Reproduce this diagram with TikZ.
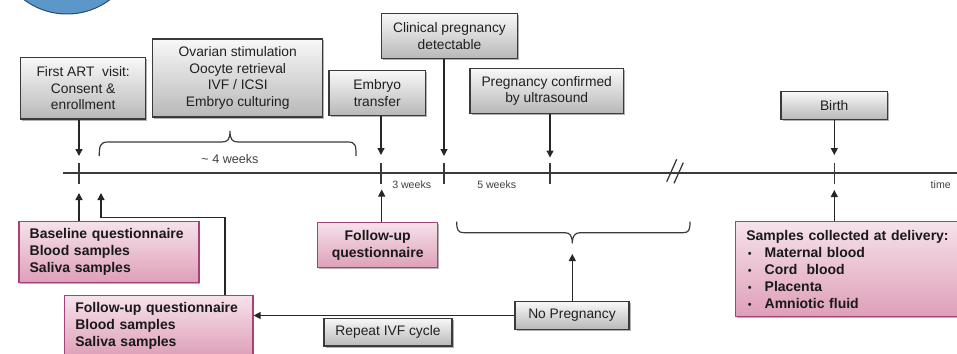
\documentclass[tikz,border=0pt]{standalone}
\usepackage{fontspec}
\setmainfont{Liberation Sans}
\usetikzlibrary{arrows.meta,shadows,calc}
\definecolor{boxline}{HTML}{3A3A3A}
\definecolor{graytop}{HTML}{F8F8F8}
\definecolor{graybot}{HTML}{B8B8B8}
\definecolor{pinktop}{HTML}{F6E2EA}
\definecolor{pinkbot}{HTML}{DE9FB8}
\definecolor{pinkline}{HTML}{A6417A}
\definecolor{circfill}{HTML}{5B97C8}
\definecolor{circline}{HTML}{2E4A66}
\definecolor{txt}{HTML}{202020}
\newcommand{\blt}{\makebox[18.3pt][l]{\hspace{1.5pt}\mdseries\fontsize{11}{17}\selectfont\textbullet}}
\begin{document}
\begin{tikzpicture}[x=1pt,y=-1pt,
  graybox/.style={draw=boxline, line width=1.2pt, top color=graytop, bottom color=graybot,
    align=center, text=txt, font=\fontsize{13.8}{16.7}\selectfont, inner sep=0pt,
    drop shadow={shadow xshift=1.5pt,shadow yshift=-1.5pt,opacity=0.3,fill=black}},
  pinkbox/.style={draw=pinkline, line width=1.3pt, top color=pinktop, bottom color=pinkbot,
    text=black!90, font=\fontsize{14}{17}\selectfont\bfseries, inner ysep=0pt,
    drop shadow={shadow xshift=1.5pt,shadow yshift=-1.5pt,opacity=0.3,fill=black}},
  arr/.style={draw=black!85, line width=1.3pt, -{Triangle[length=7pt,width=7pt]}},
  tl/.style={draw=boxline, line width=1.3pt},
  small/.style={text=black!75, font=\fontsize{10.6}{12}\selectfont, inner sep=0pt}
]
\useasboundingbox (0,0) rectangle (957,353);
\clip (0,0) rectangle (957,353);

% decorative circle (top left, cut off)
\draw[fill=circfill, draw=circline, line width=1pt] (67,-57.5) circle[radius=71.5pt];

% timeline
\draw[tl] (63,173) -- (957,173);
\coordinate (t1) at (79,173);
\coordinate (t2) at (381,173);
\coordinate (t3) at (444,173);
\coordinate (t4) at (550,173);
\coordinate (t5) at (834.3,173);
\foreach \t in {t1,t2,t3,t4,t5}{
  \draw[tl] ([yshift=10pt]\t) -- ([yshift=-11pt]\t);
}
% break marks
\draw[tl] (666.7,181.7) -- (676.7,159.3);
\draw[tl] (674,183.3) -- (683.3,162.7);

% gray boxes
\node[graybox, minimum width=125pt, minimum height=61.3pt] (art) at (83.2,88.35)
  {First ART\ \ visit:\\Consent \&\\enrollment};
\node[graybox, minimum width=170pt, minimum height=78pt] (ovar) at (237.7,78)
  {Ovarian stimulation\\Oocyte retrieval\\IVF / ICSI\\Embryo culturing};
\node[graybox, minimum width=96.3pt, minimum height=44.6pt] (embryo) at (377.2,93)
  {Embryo\\transfer};
\node[graybox, minimum width=135.6pt, minimum height=45pt] (clin) at (449.5,35.8)
  {Clinical pregnancy\\detectable};
\node[graybox, minimum width=153.3pt, minimum height=44.6pt] (conf) at (546.7,91)
  {Pregnancy confirmed\\by ultrasound};
\node[graybox, minimum width=106.3pt, minimum height=27.6pt] (birth) at (834.2,105.5)
  {Birth};
\node[graybox, minimum width=114pt, minimum height=27.6pt] (nopreg) at (572,315.5)
  {No Pregnancy};
\node[graybox, minimum width=128pt, minimum height=27.7pt] (repeat) at (388,332.2)
  {Repeat IVF cycle};

% pink boxes
\node[pinkbox, anchor=north west, text width=158.6pt, inner xsep=10.7pt,
  minimum height=61pt, align=left] (base) at (18.3,220.7)
  {Baseline questionnaire\\Blood samples\\Saliva samples};
\node[pinkbox, align=center, inner xsep=0pt, minimum width=120pt, minimum height=45pt]
  (fu1) at (377.7,245.2) {Follow-up\\questionnaire};
\node[pinkbox, anchor=north west, text width=166.9pt, inner xsep=10.7pt,
  minimum height=61pt, align=left] (fu2) at (64,295)
  {Follow-up questionnaire\\Blood samples\\Saliva samples};
\node[pinkbox, anchor=north west, text width=205.6pt, inner xsep=10.7pt,
  minimum height=95pt, align=left] (samples) at (735,221)
  {Samples collected at delivery:\\
   \blt Maternal blood\\
   \blt Cord\ \ blood\\
   \blt Placenta\\
   \blt Amniotic fluid};

% braces
\draw[tl, line width=1.2pt] (99.3,156) .. controls (99.3,146) and (100,142) .. (108,142)
  -- (222,142) .. controls (228,142) and (230,139) .. (230,131)
  .. controls (230,139) and (232,142) .. (238,142)
  -- (348,142) .. controls (356,142) and (356,146) .. (356,156);
\draw[tl, line width=1.2pt] (456.7,221.7) .. controls (456.7,230) and (458,232.7) .. (464,232.7)
  -- (565,232.7) .. controls (570,232.7) and (572.3,236) .. (572.3,243.3)
  .. controls (572.3,236) and (575,232.7) .. (580,232.7)
  -- (683,232.7) .. controls (689,232.7) and (690,230) .. (690,221.7);

% arrow end points
\coordinate (a1) at (79,156);
\coordinate (a2) at (381,155);
\coordinate (a3) at (444,156);
\coordinate (a4) at (550,157.5);
\coordinate (a5) at (834.3,155);
\coordinate (b1) at (79,193);
\coordinate (b2) at (101,193);
\coordinate (b3) at (381.7,189.5);
\coordinate (b5) at (834.3,190);
\coordinate (k1) at (225,217.7);
\coordinate (c2) at (572.3,254);

% arrows from top boxes to timeline
\draw[arr] (art.south -| a1) -- (a1);
\draw[arr] (embryo.south -| a2) -- (a2);
\draw[arr] (clin.south -| a3) -- (a3);
\draw[arr] (conf.south -| a4) -- (a4);
\draw[arr] (birth.south -| a5) -- (a5);

% arrows from bottom boxes to timeline
\draw[arr] (base.north -| b1) -- (b1);
\draw[arr] (fu2.north -| k1) -- (k1) -| (b2);
\draw[arr] (fu1.north -| b3) -- (b3);
\draw[arr] (samples.north -| b5) -- (b5);
\draw[arr] (nopreg.north -| c2) -- (c2);
\draw[arr] (nopreg.west) -- (fu2.east |- nopreg.west);

% labels
\node[small, font=\fontsize{12.6}{14}\selectfont] (w4) at (230,159) {\textasciitilde\ 4 weeks};
\node[small] (w3) at (411.7,184.3) {3 weeks};
\node[small] (w5) at (496.7,184.3) {5 weeks};
\node[small] (time) at (940.7,185) {time};
\end{tikzpicture}
\end{document}
